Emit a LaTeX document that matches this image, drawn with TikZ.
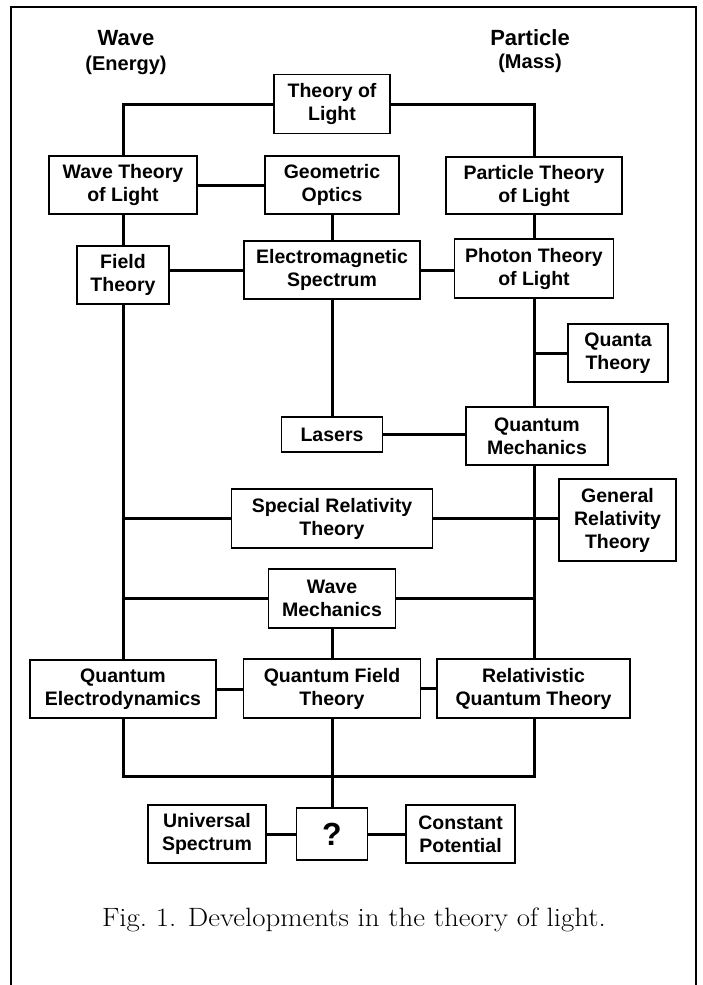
\documentclass[tikz,border=0pt]{standalone}
\usepackage{fontspec}
\newfontfamily\arialfont{Liberation Sans}
\usepackage{tikz}
\usetikzlibrary{positioning, calc}

\begin{document}
\begin{tikzpicture}[x=1pt, y=-1pt,
  box/.style 2 args={draw, line width=1.2pt, align=center, inner sep=0pt,
    minimum width=#1pt, minimum height=#2pt,
    font=\arialfont\bfseries\fontsize{19.5}{23}\selectfont},
  link/.style={line width=3pt},
  heading/.style={font=\arialfont\bfseries\fontsize{22}{24}\selectfont},
  subheading/.style={font=\arialfont\bfseries\fontsize{20}{22}\selectfont}]
  \useasboundingbox (0,0) rectangle (702,985);

  % Frame
  \draw[line width=1.8pt] (11,985) -- (11,7) -- (696,7) -- (696,985);

  % Headings
  \node[heading] (wave) at (126,38) {Wave};
  \node[subheading] (energy) at (126,65) {(Energy)};
  \node[heading] (particle) at (530,38) {Particle};
  \node[subheading] (mass) at (530,63) {(Mass)};

  % Top
  \node[box={116}{59}] (theory) at (332,104) {Theory of\\Light};
  \node[box={148}{58}] (wavetheory) at (123,185) {Wave Theory\\of Light};
  \node[box={134}{58}] (geooptics) at (332,185) {Geometric\\Optics};
  \node[box={176}{57}] (particletheory) at (534,185.5) {Particle Theory\\of Light};

  % Middle
  \node[box={92}{58}] (field) at (123,275) {Field\\Theory};
  \node[box={176}{58}] (emspec) at (332,270) {Electromagnetic\\Spectrum};
  \node[box={159}{59}] (photon) at (534,268.5) {Photon Theory\\of Light};
  \node[box={100}{58}] (quanta) at (618,353) {Quanta\\Theory};
  \node[box={101}{35}] (lasers) at (332,434.5) {Lasers};
  \node[box={142}{58}] (qmech) at (537,436) {Quantum\\Mechanics};
  \node[box={201}{59}] (specrel) at (332,518.5) {Special Relativity\\Theory};
  \node[box={117}{82}] (genrel) at (617.5,520) {General\\Relativity\\Theory};
  \node[box={127}{59}] (wavemech) at (332,598.5) {Wave\\Mechanics};

  % Bottom
  \node[box={186}{58}] (qed) at (123,689) {Quantum\\Electrodynamics};
  \node[box={177}{59}] (qft) at (332,688.5) {Quantum Field\\Theory};
  \node[box={193}{59}] (rqt) at (533.5,688.5) {Relativistic\\Quantum Theory};
  \node[box={118}{58}] (universal) at (207,834) {Universal\\Spectrum};
  \node[box={71}{52}, font=\arialfont\bfseries\fontsize{32}{34}\selectfont] (unknown) at (332,834) {?};
  \node[box={109}{58}] (constant) at (460.5,834) {Constant\\Potential};
  \coordinate (bus) at (332,776);

  % Links
  \draw[link] (theory.west) -| (wavetheory.north);
  \draw[link] (theory.east) -| (particletheory.north);
  \draw[link] (wavetheory.east) -- (geooptics.west);
  \draw[link] (geooptics.south) -- (emspec.north);
  \draw[link] (particletheory.south) -- (photon.north);
  \draw[link] (wavetheory.south) -- (field.north);
  \draw[link] (emspec.west) -- (emspec.west -| field.east);
  \draw[link] (emspec.east) -- (emspec.east -| photon.west);
  \draw[link] (photon.south) -- (photon.south |- qmech.north);
  \draw[link] (quanta.west) -- (quanta.west -| photon.south);
  \draw[link] (emspec.south) -- (lasers.north);
  \draw[link] (lasers.east) -- (lasers.east -| qmech.west);
  \draw[link] (field.south) -- (qed.north);
  \draw[link] (photon.south |- qmech.south) -- (photon.south |- rqt.north);
  \draw[link] (specrel.west) -- (specrel.west -| field.south);
  \draw[link] (specrel.east) -- (specrel.east -| genrel.west);
  \draw[link] (wavemech.west) -- (wavemech.west -| field.south);
  \draw[link] (wavemech.east) -- (wavemech.east -| photon.south);
  \draw[link] (wavemech.south) -- (qft.north);
  \draw[link] (qed.east) -- (qed.east -| qft.west);
  \draw[link] (qft.east) -- (qft.east -| rqt.west);
  \draw[link] (qed.south) |- (bus) -| (photon.south |- rqt.south);
  \draw[link] (qft.south) -- (unknown.north);
  \draw[link] (universal.east) -- (unknown.west);
  \draw[link] (unknown.east) -- (constant.west);

  % Caption
  \node[font=\fontsize{26.5}{30}\selectfont] (caption) at (354,920) {\scalebox{1.09}[1]{Fig.~1. Developments in the theory of light.}};
\end{tikzpicture}
\end{document}
